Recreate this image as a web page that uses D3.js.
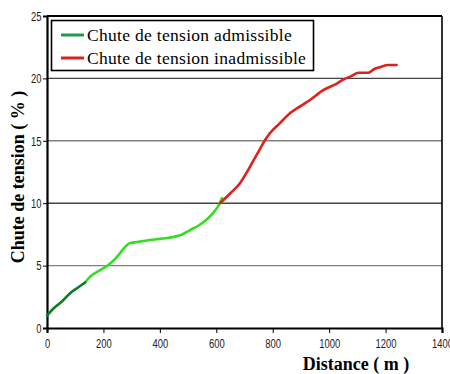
<!DOCTYPE html>
<html>

<head>
  <title>Chute de tension</title>
  <script src="https://cdn.jsdelivr.net/npm/d3@7"></script>
  <style>
    body { margin: 0; background: #fff; }
  </style>
</head>

<body>
  <svg width="450" height="374" id="mainsvg"></svg>
  <script>
    // distances (m) and voltage drop (%)
    const darkGreenX = [0, 25, 52, 80, 110, 135];
    const darkGreenY = [1.0, 1.6, 2.1, 2.75, 3.25, 3.65];
    const greenX = [135, 152, 185, 217, 240, 259, 275, 292, 330, 365, 410, 448, 480, 507, 540, 566, 590, 605, 620];
    const greenY = [3.65, 4.1, 4.6, 5.05, 5.5, 6.0, 6.45, 6.78, 6.92, 7.05, 7.17, 7.3, 7.5, 7.85, 8.25, 8.7, 9.25, 9.7, 10.4];
    const redX = [613, 650, 684, 710, 731, 755, 773, 790, 825, 861, 900, 932, 979, 1020, 1050, 1080, 1103, 1139, 1160, 1180, 1210, 1239];
    const redY = [10.0, 10.8, 11.6, 12.55, 13.4, 14.35, 15.06, 15.6, 16.4, 17.2, 17.8, 18.27, 19.06, 19.5, 19.9, 20.2, 20.45, 20.45, 20.75, 20.9, 21.07, 21.07];
    const xTicks = [0, 200, 400, 600, 800, 1000, 1200, 1400];
    const yTicks = [0, 5, 10, 15, 20, 25];
    const legendLabels = ['Chute de tension admissible', 'Chute de tension inadmissible'];
    const legendColors = ['#1f9a4e', '#e0201b'];

    const serifFont = '"Liberation Serif", "Times New Roman", Tinos, "DejaVu Serif", serif';
    const sansFont = '"Liberation Sans", Arial, sans-serif';

    const svg = d3.select('#mainsvg');
    const mLeft = 47, mRight = 442, mTop = 16, mBottom = 328;

    const x = d3.scaleLinear().domain([0, 1400]).range([mLeft, mRight]);
    const y = d3.scaleLinear().domain([0, 25]).range([mBottom, mTop]);

    // grid lines
    svg.selectAll('line.grid').data([5, 10, 15, 20]).join('line')
      .attr('class', 'grid')
      .attr('x1', mLeft).attr('x2', mRight)
      .attr('y1', d => y(d)).attr('y2', d => y(d))
      .attr('stroke', d => d % 10 === 0 ? '#444' : '#808080')
      .attr('stroke-width', 1.4);

    // frame
    svg.append('line').attr('x1', mLeft).attr('x2', mRight).attr('y1', mTop).attr('y2', mTop)
      .attr('stroke', '#000').attr('stroke-width', 2);
    svg.append('line').attr('x1', mRight).attr('x2', mRight).attr('y1', mTop).attr('y2', mBottom)
      .attr('stroke', '#000').attr('stroke-width', 1.6);

    const xAxis = svg.append('g')
      .attr('transform', `translate(0,${mBottom})`)
      .call(d3.axisBottom(x).tickValues(xTicks).tickSize(5).tickPadding(5).tickFormat(d3.format('d')));
    xAxis.select('.domain').attr('stroke', '#000').attr('stroke-width', 2.2);
    xAxis.selectAll('.tick line').attr('stroke', '#000').attr('stroke-width', 1);
    xAxis.selectAll('.tick text')
      .style('font-family', sansFont).attr('font-size', 13.5).attr('fill', '#222')
      .attr('transform', 'scale(0.7,1)');

    const yAxis = svg.append('g')
      .attr('transform', `translate(${mLeft},0)`)
      .call(d3.axisLeft(y).tickValues(yTicks).tickSize(4).tickPadding(4));
    yAxis.select('.domain').attr('stroke', '#000').attr('stroke-width', 2.2);
    yAxis.selectAll('.tick line').attr('stroke', '#000').attr('stroke-width', 1);
    yAxis.selectAll('.tick text')
      .style('font-family', sansFont).attr('font-size', 13.5).attr('fill', '#222')
      .attr('transform', 'scale(0.7,1)');

    // curves
    const line = d3.line().x(d => x(d[0])).y(d => y(d[1])).curve(d3.curveMonotoneX);
    const series = [
      { xs: greenX, ys: greenY, color: '#33dd22' },
      { xs: redX, ys: redY, color: '#e0201b' },
      { xs: darkGreenX, ys: darkGreenY, color: '#0d7d22' }
    ];
    svg.selectAll('path.curve').data(series).join('path')
      .attr('class', 'curve')
      .attr('d', s => line(d3.zip(s.xs, s.ys)))
      .attr('fill', 'none')
      .attr('stroke', s => s.color)
      .attr('stroke-width', 2.6)
      .attr('stroke-linecap', 'round');

    // legend
    const lg = svg.append('g');
    lg.append('rect')
      .attr('x', 51.5).attr('y', 20.5).attr('width', 262).attr('height', 50)
      .attr('fill', '#fff').attr('stroke', '#000').attr('stroke-width', 1.6);
    const items = lg.selectAll('g.item').data(legendLabels).join('g')
      .attr('class', 'item')
      .attr('transform', (d, i) => `translate(0,${35 + i * 23})`);
    items.append('line')
      .attr('x1', 61).attr('x2', 84).attr('y1', 0).attr('y2', 0)
      .attr('stroke', (d, i) => legendColors[i]).attr('stroke-width', 3);
    items.append('text')
      .style('font-family', serifFont)
      .attr('x', 87).attr('y', 6)
      .attr('font-size', 17.5)
      .attr('letter-spacing', 0.3)
      .attr('fill', '#000')
      .text(d => d);

    // axis titles
    svg.append('text')
      .style('font-family', serifFont)
      .attr('transform', 'translate(24,177) rotate(-90)')
      .attr('text-anchor', 'middle')
      .attr('font-weight', 'bold').attr('font-size', 18)
      .text('Chute de tension ( % )');
    svg.append('text')
      .style('font-family', serifFont)
      .attr('x', 356).attr('y', 370)
      .attr('text-anchor', 'middle')
      .attr('font-weight', 'bold').attr('font-size', 18)
      .text('Distance ( m )');
  </script>
</body>

</html>
